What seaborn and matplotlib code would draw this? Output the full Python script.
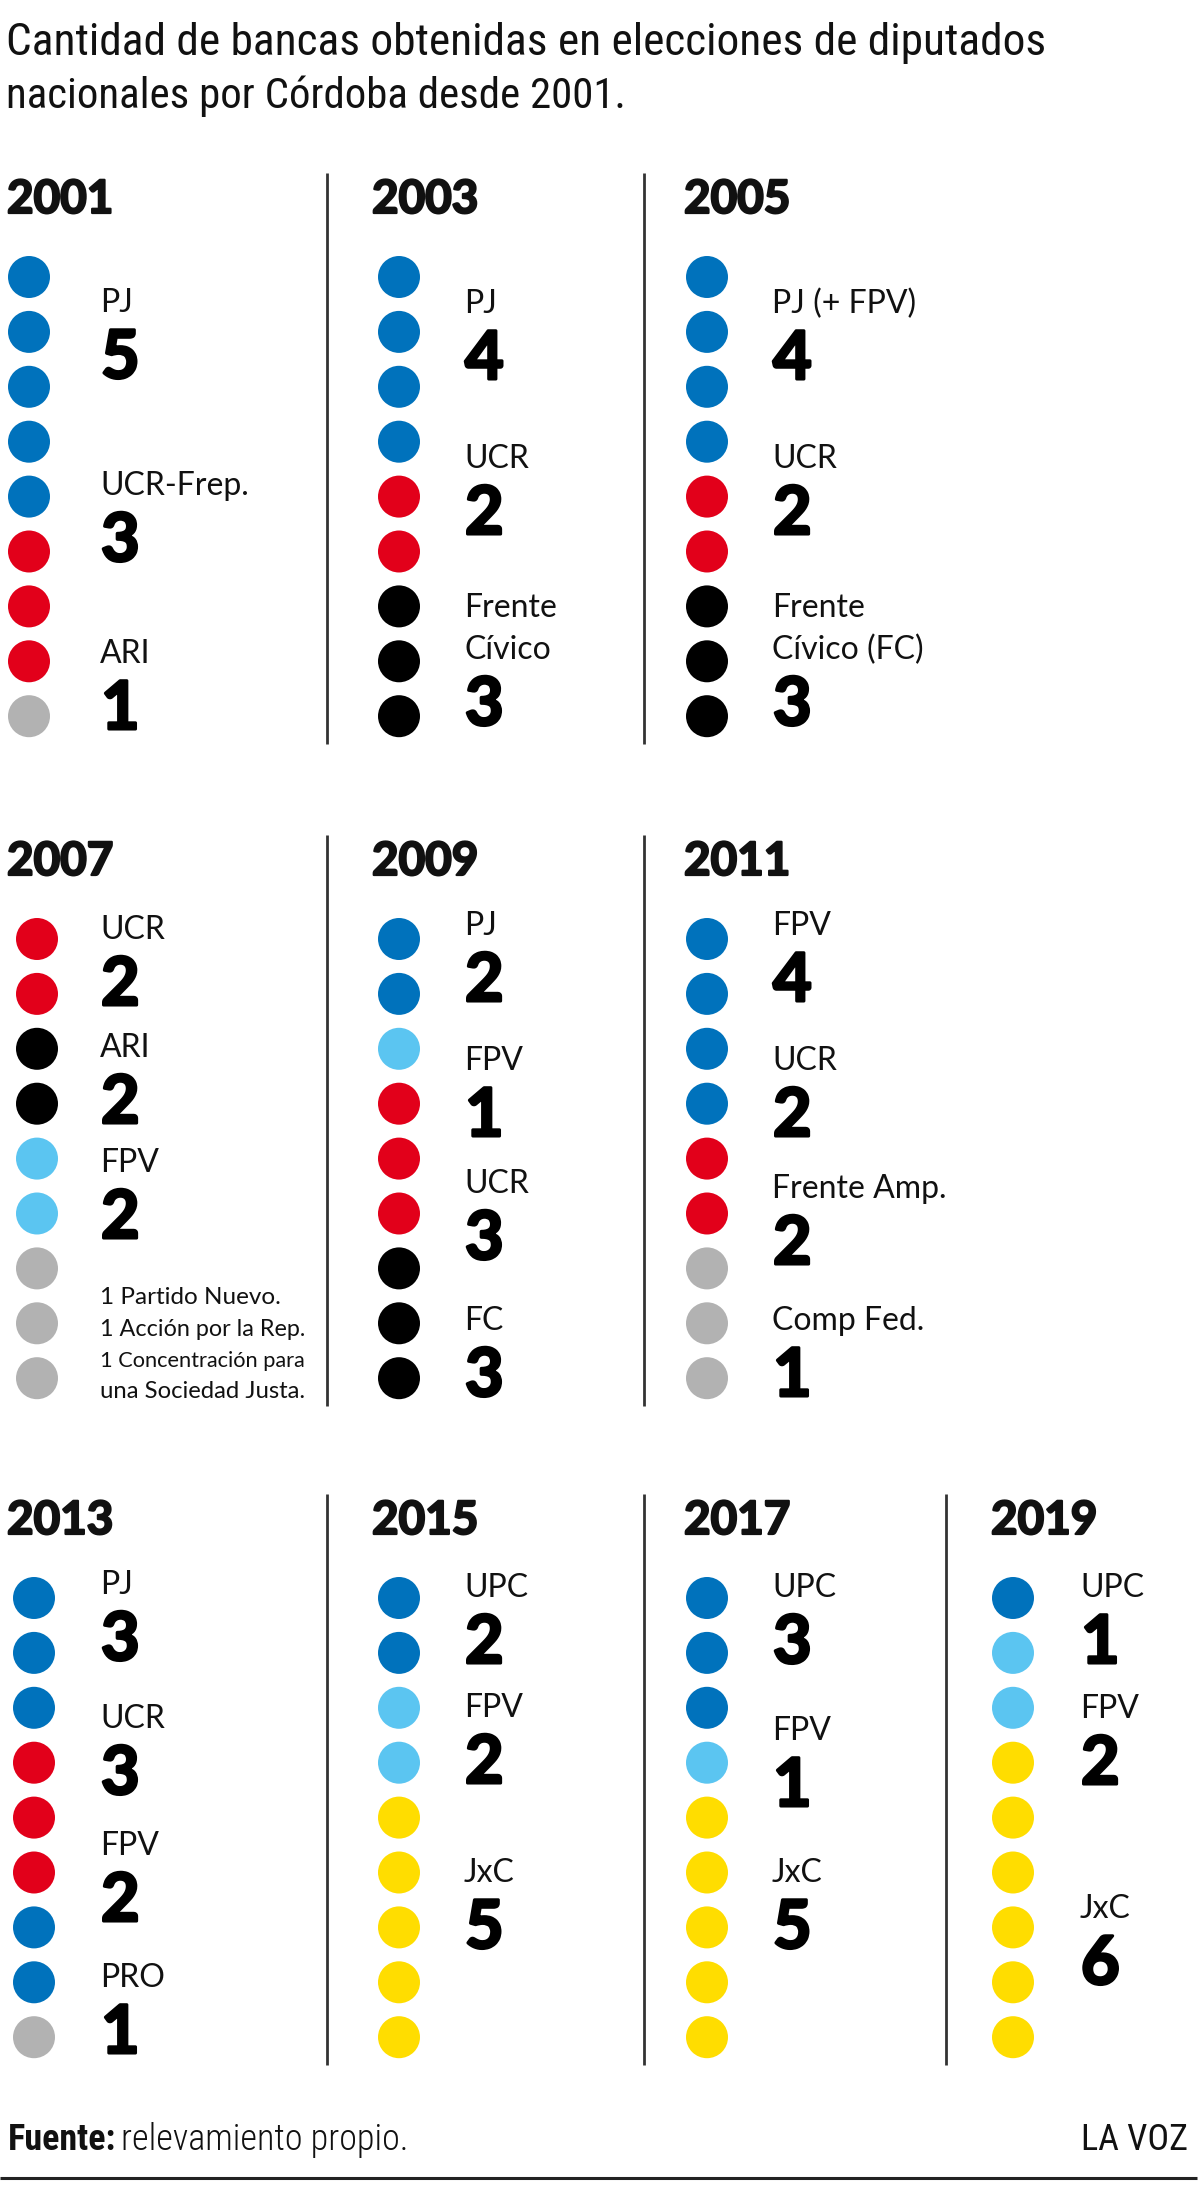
import numpy as np
import pandas as pd
import matplotlib
matplotlib.use("Agg")
import matplotlib.pyplot as plt
import matplotlib.patheffects as pe
import seaborn as sns
from matplotlib import font_manager

# ── Data: seats won per election, dots as colour runs ─────────────────────────
YEARS = ["2001", "2003", "2005", "2007", "2009", "2011", "2013", "2015", "2017", "2019"]

DOT_RUNS = [
    [("azul", 5), ("rojo", 3), ("gris", 1)],
    [("azul", 4), ("rojo", 2), ("negro", 3)],
    [("azul", 4), ("rojo", 2), ("negro", 3)],
    [("rojo", 2), ("negro", 2), ("celeste", 2), ("gris", 3)],
    [("azul", 2), ("celeste", 1), ("rojo", 3), ("negro", 3)],
    [("azul", 4), ("rojo", 2), ("gris", 3)],
    [("azul", 3), ("rojo", 3), ("azul", 2), ("gris", 1)],
    [("azul", 2), ("celeste", 2), ("amarillo", 5)],
    [("azul", 3), ("celeste", 1), ("amarillo", 5)],
    [("azul", 1), ("celeste", 2), ("amarillo", 6)],
]

PARTY_LABELS = [
    ["PJ", "UCR-Frep.", "ARI"],
    ["PJ", "UCR", "Frente\nCívico"],
    ["PJ (+ FPV)", "UCR", "Frente\nCívico (FC)"],
    ["UCR", "ARI", "FPV"],
    ["PJ", "FPV", "UCR", "FC"],
    ["FPV", "UCR", "Frente Amp.", "Comp Fed."],
    ["PJ", "UCR", "FPV", "PRO"],
    ["UPC", "FPV", "JxC"],
    ["UPC", "FPV", "JxC"],
    ["UPC", "FPV", "JxC"],
]
PARTY_SEATS = [
    [5, 3, 1], [4, 2, 3], [4, 2, 3], [2, 2, 2], [2, 1, 3, 3],
    [4, 2, 2, 1], [3, 3, 2, 1], [2, 2, 5], [3, 1, 5], [1, 2, 6],
]
NOTE_2007 = ["1 Partido Nuevo.", "1 Acción por la Rep.",
             "1 Concentración para", "una Sociedad Justa."]

TITLE = ["Cantidad de bancas obtenidas en elecciones de diputados",
         "nacionales por Córdoba desde 2001."]

PALETTE = {
    "azul":     "#0072BC",
    "rojo":     "#E2001A",
    "negro":    "#000000",
    "gris":     "#B2B2B2",
    "celeste":  "#5BC5F1",
    "amarillo": "#FFDD00",
}

# ── Layout (pixels, figure is 1200 x 2185) ────────────────────────────────────
W, H = 1200, 2185
PANEL_ROW = [0, 0, 0, 1, 1, 1, 2, 2, 2, 2]
PANEL_COL = [0, 1, 2, 0, 1, 2, 0, 1, 2, 3]
ROW_TOP   = [277, 939, 1598]          # centre of first dot
DOT_STEP  = 54.9
COL1_DOT_X = [29, 37, 34]
DOT_X     = [None, 399, 707, 1013]
TEXT_X    = [100, 464, 772, 1080]
HEAD_X    = [6, 371, 683, 990]
SEP_X     = [[327, 644], [327, 644], [327, 644, 946]]
# baseline of each label's first line, relative to the first dot
LABEL_OFF = [
    [35, 218, 386], [36, 191, 340], [36, 191, 340], [0, 118, 233],
    [-4, 131, 254, 391], [-4, 131, 259, 391], [-4, 130, 257, 389],
    [-1, 119, 284], [-1, 142, 284], [-1, 120, 320],
]
NOTE_OFF  = 365
LINE_GAP  = 42
NUM_GAP   = 66


def first_font(cands):
    names = {f.name for f in font_manager.fontManager.ttflist}
    for c in cands:
        if c in names:
            return c
    return "DejaVu Sans"


sns.set_style("white")
FONT = first_font(["Lato", "Open Sans", "Roboto"])
NARROW = first_font(["Liberation Sans Narrow", "Roboto Condensed", FONT])
plt.rcParams["font.family"] = [FONT, "DejaVu Sans"]

# no black weight installed: thicken bold glyphs with a same-colour stroke
HEAVY_NUM = [pe.withStroke(linewidth=2.2, foreground="#000000")]
HEAVY_HEAD = [pe.withStroke(linewidth=1.6, foreground="#111111")]

# ── Dot table ─────────────────────────────────────────────────────────────────
rows = []
for p, runs in enumerate(DOT_RUNS):
    r, c = PANEL_ROW[p], PANEL_COL[p]
    x = COL1_DOT_X[r] if c == 0 else DOT_X[c]
    seat = 0
    for color, n in runs:
        for _ in range(n):
            rows.append({"year": YEARS[p], "x": x,
                         "y": ROW_TOP[r] + seat * DOT_STEP, "color": color})
            seat += 1
dots = pd.DataFrame(rows)

fig = plt.figure(figsize=(W / 100, H / 100), dpi=100)
ax = fig.add_axes([0, 0, 1, 1])
ax.set_xlim(0, W)
ax.set_ylim(H, 0)
ax.axis("off")

sns.scatterplot(data=dots, x="x", y="y", hue="color", palette=PALETTE,
                s=(42 * 0.72) ** 2, linewidth=0, legend=False, ax=ax, zorder=3)

# separators
for r, xs in enumerate(SEP_X):
    for sx in xs:
        ax.plot([sx, sx], [ROW_TOP[r] - 104, ROW_TOP[r] + 467],
                color="#333333", lw=2.0, solid_capstyle="butt")

renderer = fig.canvas.get_renderer()


def fit_text(t, target_w):
    w = t.get_window_extent(renderer).width
    if w > target_w:
        t.set_fontsize(t.get_fontsize() * target_w / w)


# headers, labels, numbers
for p, year in enumerate(YEARS):
    r, c = PANEL_ROW[p], PANEL_COL[p]
    y0 = ROW_TOP[r]
    ax.text(HEAD_X[c] + 1, y0 - 64, year, fontsize=33, fontweight="bold",
            va="baseline", ha="left", color="#111111", path_effects=HEAVY_HEAD)
    for lab, n, off in zip(PARTY_LABELS[p], PARTY_SEATS[p], LABEL_OFF[p]):
        lines = lab.split("\n")
        for i, ln in enumerate(lines):
            ax.text(TEXT_X[c], y0 + off + i * LINE_GAP, ln, fontsize=23,
                    va="baseline", ha="left", color="#111111")
        ax.text(TEXT_X[c] + 1, y0 + off + (len(lines) - 1) * LINE_GAP + NUM_GAP,
                str(n), fontsize=48, fontweight="bold",
                va="baseline", ha="left", color="#000000", path_effects=HEAVY_NUM)
    if year == "2007":
        for i, ln in enumerate(NOTE_2007):
            t = ax.text(TEXT_X[c], y0 + NOTE_OFF + i * 31.5, ln, fontsize=17.5,
                        va="baseline", ha="left", color="#111111")
            fit_text(t, 205)

# title
for i, ln in enumerate(TITLE):
    t = ax.text(6, 55 + i * 53, ln, fontsize=33, family=[NARROW, "DejaVu Sans"],
                va="baseline", ha="left", color="#111111")
    fit_text(t, 1040 if i == 0 else 620)

# footer
f1 = ax.text(8, 2150, "Fuente:", fontsize=26, fontweight="bold",
             family=[NARROW, "DejaVu Sans"], va="baseline", ha="left", color="#111111")
fit_text(f1, 119)
bb = f1.get_window_extent(renderer)
f2 = ax.text(bb.x1 + 5, 2150, "relevamiento propio.", fontsize=26, fontweight="light",
             family=[NARROW, "DejaVu Sans"], va="baseline", ha="left", color="#111111")
fit_text(f2, 298)
f3 = ax.text(1188, 2150, "LA VOZ", fontsize=26, family=[NARROW, "DejaVu Sans"],
             va="baseline", ha="right", color="#111111")
fit_text(f3, 121)
ax.plot([0, 1197], [2178, 2178], color="#222222", lw=2.2, solid_capstyle="butt")

fig.savefig("out.png", dpi=100, facecolor="white")
